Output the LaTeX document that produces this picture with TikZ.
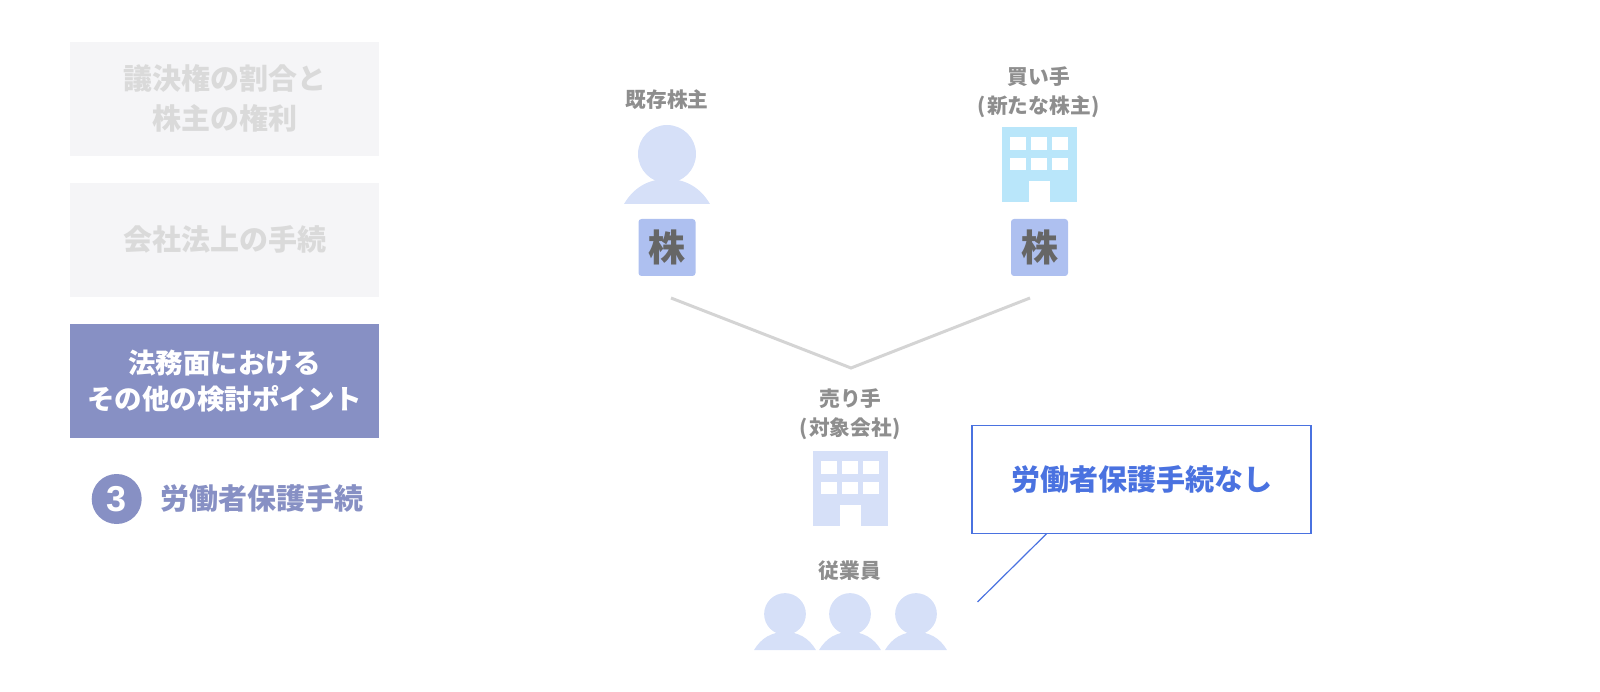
\documentclass[tikz,border=0pt]{standalone}
\usepackage{fontspec}
\setmainfont{Noto Sans CJK JP}
\newfontfamily\numfont{Liberation Sans}
\usepackage{xcolor}
\usetikzlibrary{positioning}
\definecolor{navy}{HTML}{8790C4}
\definecolor{paleBox}{HTML}{F5F5F7}
\definecolor{paleText}{HTML}{DADADA}
\definecolor{labelGrey}{HTML}{8E8E8E}
\definecolor{personBlue}{HTML}{D6E0F8}
\definecolor{skyBlue}{HTML}{B9E6FA}
\definecolor{stockBlue}{HTML}{AEC0F0}
\definecolor{noteBlue}{HTML}{4A72E0}

\begin{document}
\begin{tikzpicture}[
    x=1pt, y=-1pt,
    menuBox/.style={rectangle, fill=paleBox, text=paleText, font=\fontsize{29}{40}\selectfont\bfseries, align=center, minimum width=309pt, minimum height=113.5pt, inner sep=0pt},
    activeBox/.style={menuBox, fill=navy, text=white, font=\fontsize{27.5}{36}\selectfont\bfseries},
    labelText/.style={text=labelGrey, font=\fontsize{20.7}{29}\selectfont\bfseries, align=center, inner sep=0pt},
    stockBox/.style={rectangle, rounded corners=3pt, fill=stockBlue, text=black!60, font=\fontsize{37}{37}\selectfont\bfseries, minimum size=57pt, inner sep=0pt},
    noteBox/.style={rectangle, draw=noteBlue, fill=white, line width=1.2pt, text=noteBlue, font=\fontsize{29}{36}\selectfont\bfseries, minimum width=339pt, minimum height=107.5pt, inner sep=0pt},
    linkLine/.style={draw=black!17, line width=3pt},
    noteLine/.style={draw=noteBlue, line width=1.2pt},
    personIcon/.pic={
        \fill[personBlue] (0,-50) circle (29);
        \fill[personBlue] (-43,0) .. controls (-33,-17) and (-18,-25) .. (0,-25) .. controls (18,-25) and (33,-17) .. (43,0) -- cycle;
    },
    buildingIcon/.pic={
        \fill[pic actions] (0,0) rectangle (75,75);
        \foreach \wx in {7.7,29,50.3} {
            \foreach \wy in {10.3,31} {
                \fill[white] (\wx,\wy) rectangle ++(16,12.3);
            }
        }
        \fill[white] (27,54.3) rectangle (47.7,75);
    }
]
    \useasboundingbox (0,0) rectangle (1600,692);

    % left menu
    \node[menuBox] (voteBox) at (224.5, 98.8) {議決権の割合と\\株主の権利};
    \node[menuBox] (lawBox) at (224.5, 239.8) {会社法上の手続};
    \node[activeBox] (otherBox) at (224.5, 380.8) {法務面における\\その他の検討ポイント};
    \node[circle, fill=navy, text=white, minimum size=50pt, inner sep=0pt, font=\fontsize{36}{36}\numfont\bfseries] (stepMark) at (116.7, 499) {3};
    \node[text=navy, font=\fontsize{29}{36}\selectfont\bfseries, inner sep=0pt, anchor=west] (stepText) at (160, 498.5) {労働者保護手続};

    % shareholders
    \node[labelText] (holderLabel) at (667, 100) {既存株主};
    \pic at (667, 204) {personIcon};
    \node[stockBox] (holderStock) at (667, 247.5) {株};

    \node[labelText] (buyerLabel) at (1039, 92) {買い手\\(\kern1pt 新たな株主\kern1pt)};
    \pic[fill=skyBlue] at (1002, 127) {buildingIcon};
    \node[stockBox] (buyerStock) at (1039.5, 247.5) {株};

    \coordinate (linkLeft) at (671, 298);
    \coordinate (linkMid) at (851, 368);
    \coordinate (linkRight) at (1030, 298);
    \draw[linkLine] (linkLeft) -- (linkMid) -- (linkRight);

    % target company
    \node[labelText] (sellerLabel) at (850.5, 414.5) {売り手\\(\kern1pt 対象会社\kern1pt)};
    \pic[fill=personBlue] at (813, 451) {buildingIcon};

    % employees
    \node[labelText] (staffLabel) at (850, 571) {従業員};
    \pic[scale=0.72] at (785, 650) {personIcon};
    \pic[scale=0.72] at (850, 650) {personIcon};
    \pic[scale=0.72] at (916, 650) {personIcon};

    % note
    \node[noteBox] (noteText) at (1141.5, 479.5) {\raisebox{-2pt}{労働者保護手続なし}};
    \coordinate (noteEnd) at (977.5, 602);
    \draw[noteLine] (noteText.south west) ++(75,0) coordinate (noteStart) -- (noteEnd);
\end{tikzpicture}
\end{document}
